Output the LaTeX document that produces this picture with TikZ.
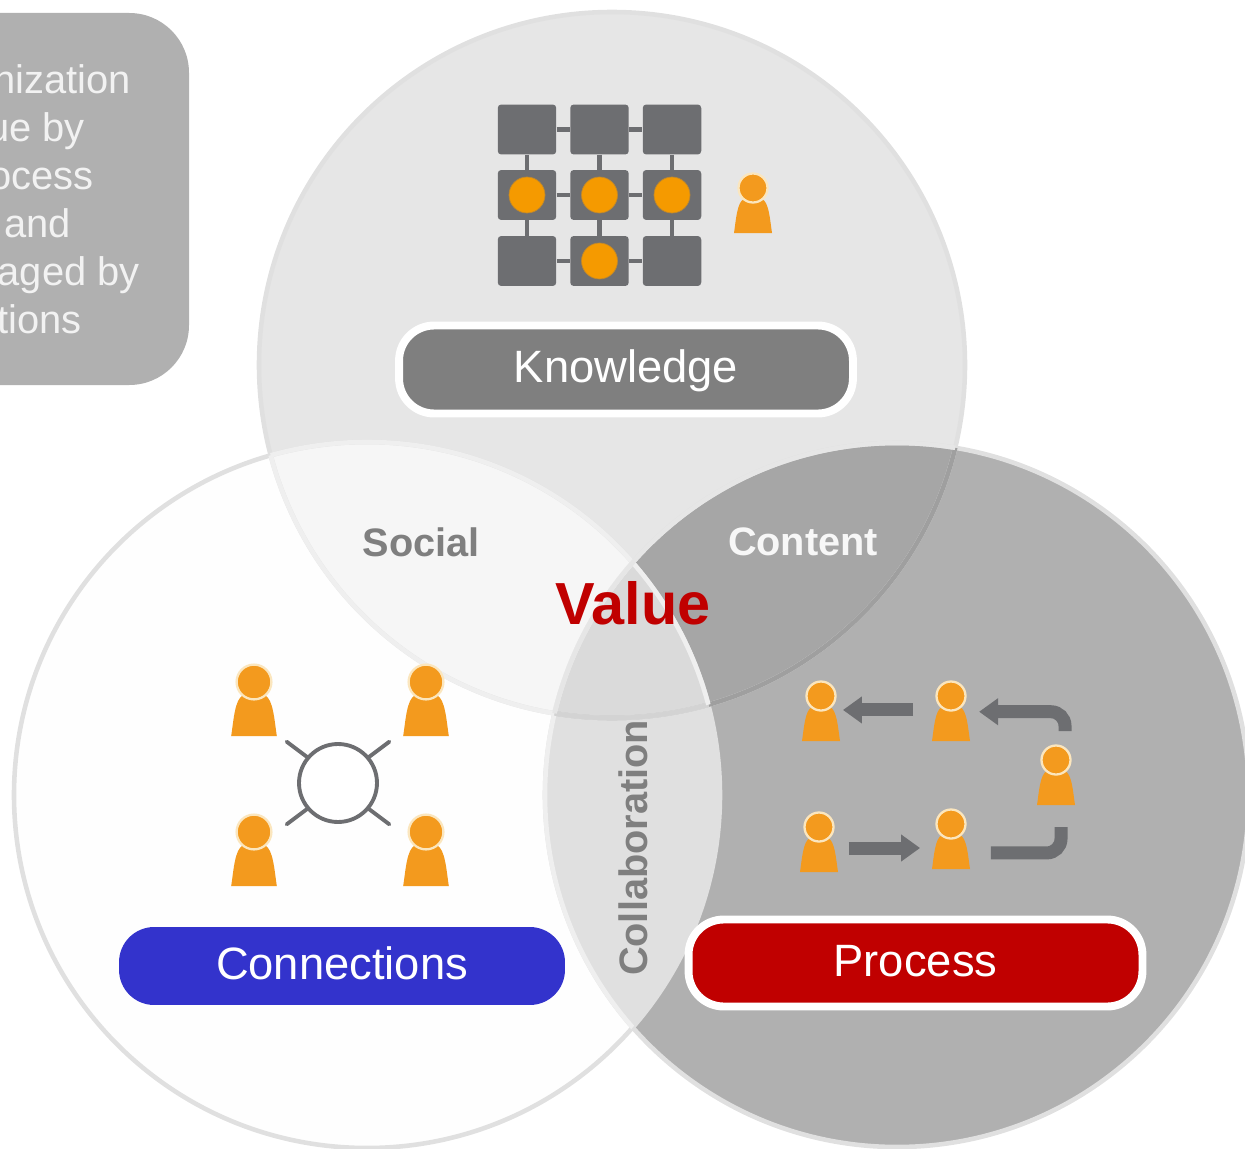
\documentclass[tikz,border=0pt]{standalone}
\usepackage{fontspec}
\setmainfont{Liberation Sans}
\usetikzlibrary{positioning,arrows.meta,calc}
\definecolor{knowfill}{HTML}{E6E6E6}
\definecolor{connfill}{HTML}{FEFEFE}
\definecolor{procfill}{HTML}{B0B0B0}
\definecolor{socialfill}{HTML}{F6F6F6}
\definecolor{contentfill}{HTML}{A6A6A6}
\definecolor{collabfill}{HTML}{E0E0E0}
\definecolor{valuefill}{HTML}{DADADA}
\definecolor{rimgray}{HTML}{E0E0E0}
\definecolor{slate}{HTML}{6D6E71}
\definecolor{personorange}{HTML}{F39A1E}
\definecolor{personrim}{HTML}{FBE6BE}
\definecolor{dotorange}{HTML}{F59A00}
\definecolor{valuered}{HTML}{C00000}
\definecolor{connblue}{HTML}{3333CC}
\definecolor{labelgray}{HTML}{7F7F7F}
\definecolor{boxtext}{HTML}{F2F2F2}
\def\knowcircle{(612,365) circle (353)}
\def\conncircle{(367,795) circle (353)}
\def\proccircle{(897,795) circle (352)}
\tikzset{
    rim/.style={draw=rimgray,line width=2.6pt},
    pill/.style={rounded corners=20pt,inner sep=0pt,text=white,text height=16.9pt,text depth=1.8pt,font=\fontsize{25.8}{30}\selectfont},
    overlaplabel/.style={font=\bfseries\fontsize{22.6}{27}\selectfont},
    boxline/.style={anchor=base east,text=boxtext,inner sep=0pt,font=\fontsize{22.7}{27}\selectfont},
    gridsquare/.style={fill=slate,rounded corners=2pt,minimum width=1.17cm,minimum height=1cm,inner sep=0pt},
    griddot/.style={circle,fill=dotorange,draw=slate!40!dotorange,line width=0.4pt,minimum size=0.72cm,inner sep=0pt},
    gridlink/.style={slate,line width=2.8pt},
    spoke/.style={slate,line width=2.2pt,line cap=round},
    flow/.style={slate,line width=7.4pt,rounded corners=8pt},
    flowtip/.style={-{Triangle[length=10.8pt,width=14.7pt]}},
    person/.pic={
        \fill[personorange] (-19,45) .. controls (-17,32) and (-16,14) .. (-9,11) -- (9,11) .. controls (16,14) and (17,32) .. (19,45) -- cycle;
        \fill[personorange,draw=personrim,line width=1.3pt] (0,0) circle (14.5);
        \coordinate (-body) at (0,21);
    }
}
\begin{document}
\begin{tikzpicture}[x=0.02cm,y=-0.02cm]
    \useasboundingbox (0,0) rectangle (1245,1149);
    \clip (0,0) rectangle (1245,1149);

    % SIDE BOX - cut by the page edge
    \fill[procfill] (0,13) [rounded corners=34pt] -- (189,13) -- (189,385) [sharp corners] -- (0,385) -- cycle;
    \foreach \txt/\xend/\ybase [count=\i] in {nization/131/94,ue by/85/142,ocess/94/190,and/71/237,aged by/140/285,tions/82/333} {
        \node[boxline] (boxline\i) at (\xend,\ybase) {\txt};
    }

    % THREE CIRCLES
    \fill[knowfill] \knowcircle;
    \fill[connfill] \conncircle;
    \fill[procfill] \proccircle;
    \begin{scope}
        \clip \knowcircle;
        \fill[socialfill] \conncircle;
        \fill[contentfill] \proccircle;
    \end{scope}
    \begin{scope}
        \clip \conncircle;
        \fill[collabfill] \proccircle;
        \clip \knowcircle;
        \fill[valuefill] \proccircle;
    \end{scope}

    % RIMS
    \draw[rim] \knowcircle;
    \draw[rim] \conncircle;
    \draw[rim] \proccircle;
    \begin{scope}
        \clip \proccircle;
        \draw[rim,draw=contentfill!96!black] \knowcircle;
    \end{scope}
    \begin{scope}
        \clip \conncircle;
        \draw[rim,draw=socialfill!97!black] \knowcircle;
        \draw[rim,draw=socialfill!97!black] \proccircle;
        \clip \proccircle;
        \draw[rim,draw=valuefill!97!black] \knowcircle;
    \end{scope}
    \begin{scope}
        \clip \knowcircle;
        \draw[rim,draw=socialfill!97!black] \conncircle;
        \draw[rim,draw=knowfill] \proccircle;
    \end{scope}

    % KNOWLEDGE - grid
    \foreach \cname/\cx in {a/527,b/599.5,c/672} {
        \foreach \rname/\ry in {1/129.5,2/195,3/261} {
            \node[gridsquare] (sq-\cname\rname) at (\cx,\ry) {};
        }
    }
    \foreach \from/\to in {a1/b1,b1/c1,a2/b2,b2/c2,a3/b3,b3/c3,a1/a2,a2/a3,b1/b2,b2/b3,c1/c2,c2/c3} {
        \draw[gridlink] (sq-\from) -- (sq-\to);
    }
    \foreach \sq in {a2,b2,c2,b3} {
        \node[griddot] (dot-\sq) at (sq-\sq) {};
    }
    \pic (pk) at (753,188) {person};
    \node[pill,fill=labelgray,draw=white,line width=4.5pt,minimum width=9.08cm,minimum height=1.76cm] (knowledge) at (626,369.5) {Knowledge};

    % CONNECTIONS - hub
    \foreach \pname/\px/\py in {pa/254/682,pb/426/682,pc/254/832,pd/426/832} {
        \pic[scale=1.2] (\pname) at (\px,\py) {person};
    }
    \node[circle,draw=slate,fill=white,line width=2.2pt,minimum size=1.56cm,inner sep=0pt] (hub) at (338,783) {};
    \draw[spoke] (hub.140) -- ++(-20,-15);
    \draw[spoke] (hub.40) -- ++(20,-15);
    \draw[spoke] (hub.220) -- ++(-20,15);
    \draw[spoke] (hub.320) -- ++(20,15);
    \node[pill,fill=connblue,minimum width=8.92cm,minimum height=1.56cm] (connections) at (342,966) {Connections};

    % PROCESS - chain
    \foreach \pname/\px/\py in {p1/821/696,p2/951/696,p3/1056/760,p4/819/827,p5/951/824} {
        \pic (\pname) at (\px,\py) {person};
    }
    \coordinate (turnA) at (1065,731);
    \coordinate (turnB) at (1061,827);
    \draw[flow,flowtip,shorten <=21.5pt,shorten >=12.5pt] ([yshift=4pt]p2-body) -- ([yshift=4pt]p1-body);
    \draw[flow,flowtip,shorten >=16pt] (turnA) |- ([yshift=3pt]p2-body);
    \draw[flow,flowtip,shorten <=17pt,shorten >=17.6pt] (p4-body) -- (p4-body -| p5-body);
    \draw[flow,shorten <=22.7pt] ([yshift=-4.5pt]p5-body) -| (turnB);
    \node[pill,fill=valuered,draw=white,line width=4.5pt,minimum width=9.08cm,minimum height=1.74cm] (process) at (915.5,963) {Process};

    % OVERLAP LABELS
    \node[overlaplabel,text=labelgray] (social) at (421,542) {Social};
    \node[overlaplabel,text=white!97!black] (content) at (803,542) {Content};
    \node[overlaplabel,text=labelgray,rotate=90] (collab) at (633,848) {Collaboration};
    \node[text=valuered,font=\bfseries\fontsize{33.8}{40}\selectfont] (value) at (633,603) {Value};

\end{tikzpicture}
\end{document}
